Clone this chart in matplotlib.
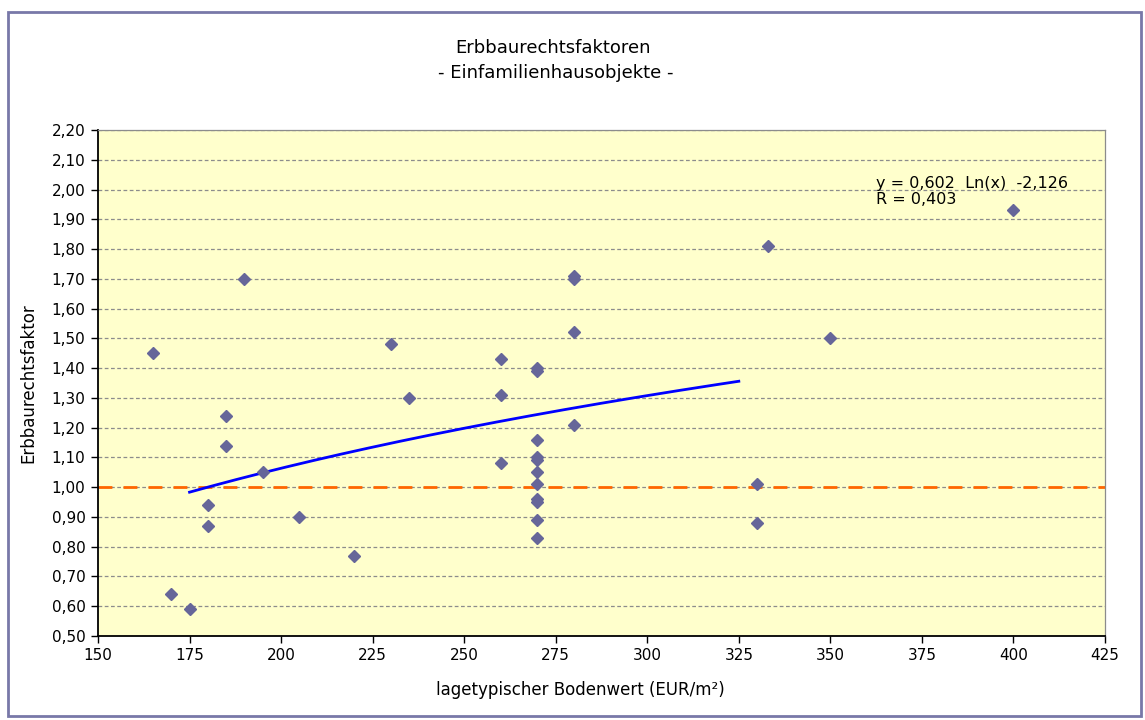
import numpy as np
import matplotlib
matplotlib.use("Agg")
import matplotlib.pyplot as plt
from matplotlib.patches import Rectangle
from matplotlib.ticker import FuncFormatter, MultipleLocator

# Data
bodenwert = [165, 170, 175, 180, 180, 185, 185, 190, 195, 205, 220, 230, 235,
             260, 260, 260,
             270, 270, 270, 270, 270, 270, 270, 270, 270, 270, 270,
             280, 280, 280, 280, 330, 330, 333, 350, 400]
faktor = [1.45, 0.64, 0.59, 0.94, 0.87, 1.24, 1.14, 1.70, 1.05, 0.90, 0.77, 1.48, 1.30,
          1.43, 1.31, 1.08,
          1.40, 1.39, 1.16, 1.10, 1.09, 1.05, 1.01, 0.96, 0.95, 0.89, 0.83,
          1.71, 1.70, 1.52, 1.21, 1.01, 0.88, 1.81, 1.50, 1.93]

# Trendline as printed on the chart: y = 0,602 Ln(x) - 2,126
trend_a = 0.602
trend_b = -2.126
trend_range = (175, 325)


def comma(v, _pos=None, nd=2):
    return f"{v:.{nd}f}".replace(".", ",")


fig = plt.figure(figsize=(11.45, 7.2), dpi=100)
plt.rcParams['font.family'] = ['DejaVu Sans']

# outer chart frame
fig.patches.append(Rectangle((8 / 1145, 4 / 720), 1133 / 1145, 704 / 720,
                             transform=fig.transFigure, fill=False,
                             edgecolor='#7878a8', linewidth=2))

ax = fig.add_axes([98 / 1145, 1 - 636 / 720, 1007 / 1145, 506 / 720])
ax.set_facecolor('#ffffcc')

ax.grid(axis='y', color='#8c8c8c', linestyle=(0, (3, 2)), linewidth=0.9)
ax.set_axisbelow(True)

ax.axhline(1.0, color='#ff6600', linestyle=(0, (5, 4)), linewidth=2, zorder=2)

xt = np.linspace(trend_range[0], trend_range[1], 200)
ax.plot(xt, trend_a * np.log(xt) + trend_b, color='#0000ff', linewidth=2, zorder=3)

ax.plot(bodenwert, faktor, linestyle='none', marker='D', markersize=6.5,
        color='#666699', markeredgecolor='#666699', zorder=4)

ax.set_xlim(150, 425)
ax.set_ylim(0.5, 2.2)
ax.xaxis.set_major_locator(MultipleLocator(25))
ax.yaxis.set_major_locator(MultipleLocator(0.1))
ax.yaxis.set_major_formatter(FuncFormatter(comma))
ax.xaxis.set_major_formatter(FuncFormatter(lambda v, p: f"{v:.0f}"))
ax.tick_params(direction='out', length=5, width=1, labelsize=11, colors='black', pad=4)

for s in ['left', 'bottom']:
    ax.spines[s].set_color('black')
    ax.spines[s].set_linewidth(1.3)
for s in ['top', 'right']:
    ax.spines[s].set_color('#8c8c8c')
    ax.spines[s].set_linewidth(0.9)

ax.text(362.5, 2.045, "y = 0,602  Ln(x)  -2,126\nR = 0,403", fontsize=11.5,
        va='top', ha='left', linespacing=1.1)

fig.text(553 / 1145, 1 - 48 / 720, "Erbbaurechtsfaktoren", ha='center', va='center',
         fontsize=13)
fig.text(556 / 1145, 1 - 73 / 720, "- Einfamilienhausobjekte -", ha='center', va='center',
         fontsize=13)

ax.set_ylabel("Erbbaurechtsfaktor", fontsize=12, labelpad=10)
fig.text(580 / 1145, 1 - 690 / 720, "lagetypischer Bodenwert (EUR/m²)", ha='center',
         va='center', fontsize=12)

fig.savefig("out.png", dpi=100)
